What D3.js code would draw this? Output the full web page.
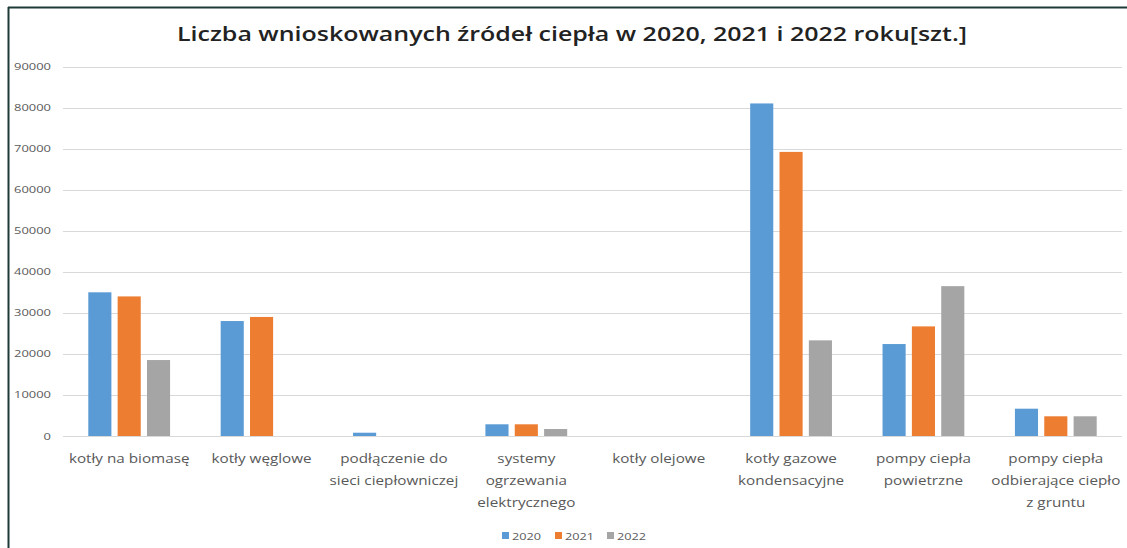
<!DOCTYPE html>
<html>
<head>
<meta charset="utf-8">
<script src="https://cdn.jsdelivr.net/npm/d3@7"></script>
<style>
  body { margin: 0; background: #fff; }
  svg text { font-family: "Open Sans", "Noto Sans", sans-serif; }
</style>
</head>
<body>
<svg id="chart" width="1127" height="548"></svg>
<script>
'use strict';

var categories = ['kotły na biomasę', 'kotły węglowe', 'podłączenie do sieci ciepłowniczej',
  'systemy ogrzewania elektrycznego', 'kotły olejowe', 'kotły gazowe kondensacyjne',
  'pompy ciepła powietrzne', 'pompy ciepła odbierające ciepło z gruntu'];
var labelLines = [['kotły na biomasę'], ['kotły węglowe'], ['podłączenie do', 'sieci ciepłowniczej'],
  ['systemy', 'ogrzewania', 'elektrycznego'], ['kotły olejowe'], ['kotły gazowe', 'kondensacyjne'],
  ['pompy ciepła', 'powietrzne'], ['pompy ciepła', 'odbierające ciepło', 'z gruntu']];
var years = ['2020', '2021', '2022'];
var values2020 = [35000, 28000, 800, 2850, 0, 81000, 22400, 6650];
var values2021 = [34000, 29000, 0, 2850, 0, 69200, 26700, 4800];
var values2022 = [18500, 0, 0, 1700, 0, 23300, 36500, 4800];
var yTicks = [0, 10000, 20000, 30000, 40000, 50000, 60000, 70000, 80000, 90000];
var colors = ['#5B9BD5', '#ED7D31', '#A5A5A5'];
var title = 'Liczba wnioskowanych źródeł ciepła w 2020, 2021 i 2022 roku[szt.]';

var series = [values2020, values2021, values2022];

var svg = d3.select('#chart');
var plot = { left: 63, right: 1122, top: 66.5, bottom: 436 };
var stretch = 1.22; // source picture is wider than tall, text looks stretched

// frame of the chart object
svg.append('line').attr('x1', 8.5).attr('x2', 8.5).attr('y1', 7).attr('y2', 548)
  .attr('stroke', '#1d3b36').attr('stroke-width', 2);
svg.append('line').attr('x1', 8).attr('x2', 1127).attr('y1', 7.5).attr('y2', 7.5)
  .attr('stroke', '#1d3b36').attr('stroke-width', 2);

var y = d3.scaleLinear().domain([0, 90000]).range([plot.bottom, plot.top]);

// gap width 219%, overlap -27% (Excel defaults)
var x0 = d3.scaleBand().domain(categories).range([plot.left, plot.right])
  .paddingInner(2.19 / 5.73).paddingOuter(2.19 / 5.73 / 2);
var x1 = d3.scaleBand().domain(years).range([0, x0.bandwidth()])
  .paddingInner(0.27 / 1.27).paddingOuter(0);

// gridlines
svg.append('g').selectAll('line').data(yTicks).join('line')
  .attr('x1', plot.left).attr('x2', plot.right)
  .attr('y1', function (d) { return Math.round(y(d)) + 0.5; })
  .attr('y2', function (d) { return Math.round(y(d)) + 0.5; })
  .attr('stroke', '#d9d9d9').attr('stroke-width', 1);

// y axis labels
var yAxis = svg.append('g').attr('transform', 'translate(' + (plot.left - 12) + ',0)')
  .call(d3.axisLeft(y).tickValues(yTicks).tickSize(0).tickPadding(0).tickFormat(d3.format('d')));
yAxis.select('.domain').remove();
yAxis.selectAll('text').attr('font-size', 9.5).attr('fill', '#595959')
  .attr('textLength', function (d) { return String(d).length * 7.4; })
  .attr('lengthAdjust', 'spacingAndGlyphs');

// bars
var groups = svg.append('g').selectAll('g').data(categories).join('g')
  .attr('transform', function (d) { return 'translate(' + x0(d) + ',0)'; });
groups.selectAll('rect').data(function (d, i) {
  return years.map(function (yr, j) { return { year: yr, value: series[j][i], color: colors[j] }; });
}).join('rect')
  .filter(function (d) { return d.value > 0; })
  .attr('x', function (d) { return x1(d.year); })
  .attr('y', function (d) { return y(d.value); })
  .attr('width', x1.bandwidth())
  .attr('height', function (d) { return y(0) - y(d.value); })
  .attr('fill', function (d) { return d.color; });

// x labels
var xl = svg.append('g').selectAll('text').data(categories).join('text')
  .attr('transform', function (d) {
    return 'translate(' + (x0(d) + x0.bandwidth() / 2) + ',463) scale(' + stretch + ',1)';
  })
  .attr('text-anchor', 'middle')
  .attr('font-size', 12.5).attr('fill', '#595959');
xl.selectAll('tspan').data(function (d, i) { return labelLines[i]; }).join('tspan')
  .attr('x', 0)
  .attr('dy', function (d, i) { return i === 0 ? 0 : 22; })
  .text(function (d) { return d; });

// title
svg.append('text').attr('x', 572).attr('y', 41).attr('text-anchor', 'middle')
  .attr('font-size', 20).attr('font-weight', 600).attr('fill', '#222')
  .attr('textLength', 790).attr('lengthAdjust', 'spacingAndGlyphs')
  .text(title);

// legend
var legendX = [502, 555, 607];
var leg = svg.append('g').selectAll('g').data(years).join('g')
  .attr('transform', function (d, i) { return 'translate(' + legendX[i] + ',532)'; });
leg.append('rect').attr('width', 7).attr('height', 7)
  .attr('fill', function (d, i) { return colors[i]; });
leg.append('text').attr('x', 10).attr('y', 7.5).attr('font-size', 9.5).attr('fill', '#595959')
  .attr('textLength', 29).attr('lengthAdjust', 'spacingAndGlyphs')
  .text(function (d) { return d; });
</script>
</body>
</html>
